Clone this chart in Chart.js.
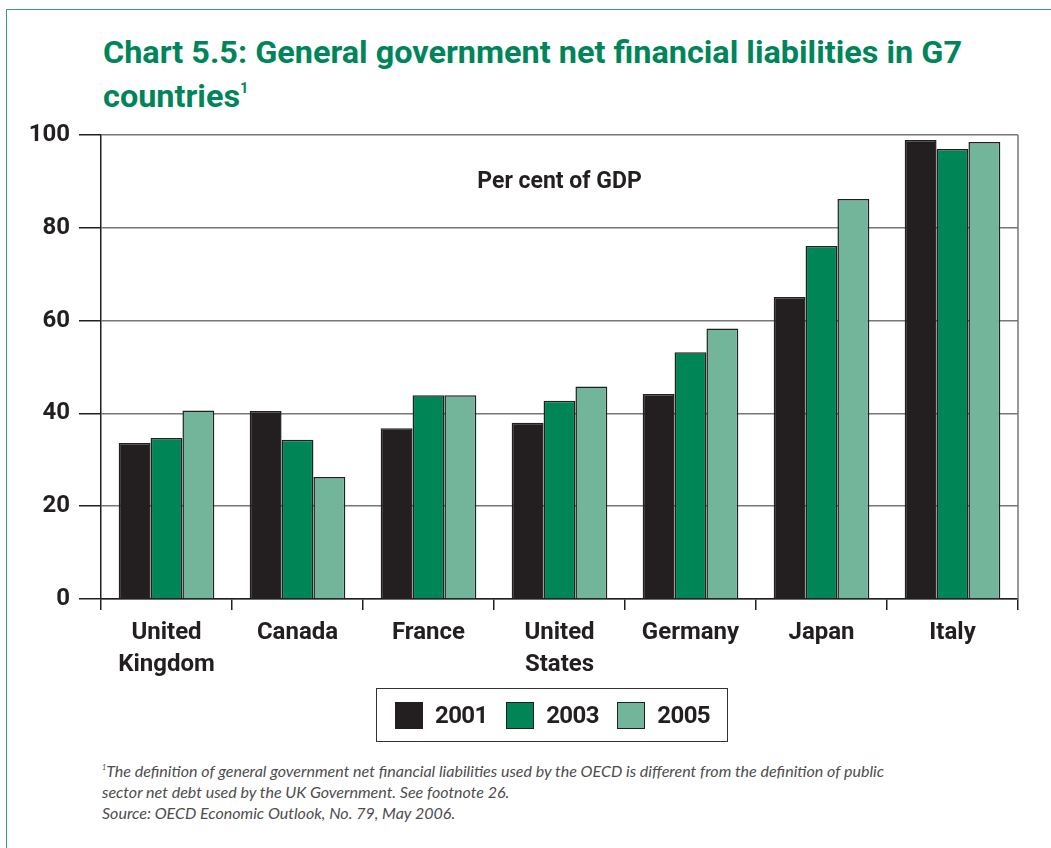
<!DOCTYPE html>
<html>
<head>
<meta charset="utf-8">
<script src="https://cdn.jsdelivr.net/npm/chart.js@4.4.1/dist/chart.umd.min.js"></script>
<style>
  html, body { margin: 0; padding: 0; background: #fff; }
  body { width: 1051px; height: 848px; position: relative; overflow: hidden; }
  .frame-top { position: absolute; left: 6px; top: 9px; width: 1045px; height: 0; border-top: 1.5px solid #3a9d74; }
  .frame-left { position: absolute; left: 6px; top: 9px; width: 0; height: 839px; border-left: 1.5px solid #3a9d74; }
  #title {
    position: absolute; left: 103px; top: 30px;
    font-family: "Liberation Sans Narrow", "Roboto", sans-serif;
    font-weight: bold; font-size: 32px; line-height: 44px; color: #00855a;
    transform-origin: 0 0; white-space: nowrap;
  }
  #title span { display: inline-block; }
  #title sup, #note sup { font-size: 0.45em; vertical-align: 0.95em; line-height: 0; }
  #wrap { position: absolute; left: 0; top: 0; width: 1051px; height: 700px; }
  #legend {
    position: absolute; left: 376px; top: 688px; width: 315px; height: 52px;
    border: 1.5px solid #333; padding: 0 17px 0 18px; box-sizing: content-box;
    display: flex; align-items: center; justify-content: space-between;
    font-family: "Liberation Sans Narrow", "Roboto", sans-serif; font-weight: bold; font-size: 24px;
    letter-spacing: -0.6px; color: #231f20;
  }
  #legend .item { display: flex; align-items: center; }
  #legend .swatch { width: 26px; height: 25px; border: 1.5px solid #231f20; margin-right: 12px; }
  #note {
    position: absolute; left: 102px; top: 760px;
    font-family: "Lato", "Open Sans", sans-serif; font-style: italic; font-size: 16px; line-height: 21px;
    color: #4d4d4d; white-space: nowrap; transform-origin: 0 0;
  }
  #note span { display: inline-block; }
</style>
</head>
<body>
<div class="frame-top"></div>
<div class="frame-left"></div>

<div id="title"><span id="titleLine">Chart 5.5: General government net financial liabilities in G7</span><br><span>countries<sup>1</sup></span></div>

<div id="wrap"><canvas id="g7Chart"></canvas></div>

<div id="legend"></div>

<div id="note"><span id="noteLine"><sup>1</sup>The definition of general government net financial liabilities used by the OECD is different from the definition of public</span><br>sector net debt used by the UK Government. See footnote 26.<br>Source: OECD Economic Outlook, No. 79, May 2006.</div>

<script>
// G7 net financial liabilities, per cent of GDP
const countries = [["United", "Kingdom"], "Canada", "France", ["United", "States"], "Germany", "Japan", "Italy"];
const years = ["2001", "2003", "2005"];
const debt2001 = [33.6, 40.5, 36.8, 38.0, 44.2, 65.1, 98.9];
const debt2003 = [34.7, 34.3, 43.9, 42.7, 53.2, 76.1, 97.0];
const debt2005 = [40.6, 26.3, 43.9, 45.8, 58.3, 86.2, 98.5];
const yTicks = [0, 20, 40, 60, 80, 100];

const colors = ["#231f20", "#008556", "#72b59b"];
const INK = "#231f20";
const NARROW = '"Liberation Sans Narrow", "Roboto", sans-serif';

// stretch a text block so its first line spans the given width
function fitWidth(block, line, target) {
  const w = line.getBoundingClientRect().width;
  if (w > 0) block.style.transform = "scaleX(" + (target / w) + ")";
}
fitWidth(document.getElementById("title"), document.getElementById("titleLine"), 859);
fitWidth(document.getElementById("note"), document.getElementById("noteLine"), 782);

// legend built from the series names/colours
const legend = document.getElementById("legend");
years.forEach((y, i) => {
  const item = document.createElement("div");
  item.className = "item";
  item.innerHTML = `<div class="swatch" style="background:${colors[i]}"></div><span>${y}</span>`;
  legend.appendChild(item);
});

// right border of the plot + the "Per cent of GDP" caption
const plotExtras = {
  id: "plotExtras",
  afterDraw(chart) {
    const { ctx, chartArea: a } = chart;
    ctx.save();
    ctx.strokeStyle = "#777";
    ctx.lineWidth = 1.5;
    ctx.beginPath();
    ctx.moveTo(a.right, a.top);
    ctx.lineTo(a.right, a.bottom);
    ctx.stroke();
    ctx.fillStyle = INK;
    ctx.font = "bold 23px " + NARROW;
    ctx.textAlign = "center";
    ctx.textBaseline = "alphabetic";
    ctx.fillText("Per cent of GDP", (a.left + a.right) / 2, a.top + 53);
    ctx.restore();
  }
};

const data = [debt2001, debt2003, debt2005];

new Chart(document.getElementById("g7Chart"), {
  type: "bar",
  data: {
    labels: countries,
    datasets: years.map((y, i) => ({
      label: y,
      data: data[i],
      backgroundColor: colors[i],
      borderColor: INK,
      borderWidth: 1.5,
      barPercentage: 1,
      categoryPercentage: 0.73
    }))
  },
  options: {
    responsive: true,
    maintainAspectRatio: false,
    animation: false,
    events: [],
    layout: { padding: { top: 135, right: 33, bottom: 0, left: 0 } },
    plugins: {
      legend: { display: false },
      tooltip: { enabled: false }
    },
    scales: {
      x: {
        afterFit: (s) => { s.height = 101; },
        grid: { offset: true, drawOnChartArea: false, tickLength: 11, tickColor: INK, lineWidth: 1.5 },
        border: { color: INK, width: 1.5 },
        ticks: {
          color: INK, padding: 7,
          font: { family: NARROW, size: 24, weight: "bold", lineHeight: 1.33 }
        }
      },
      y: {
        min: 0,
        max: 100,
        afterFit: (s) => { s.width = 101; },
        afterBuildTicks: (s) => { s.ticks = yTicks.map(v => ({ value: v })); },
        grid: { color: "#777", lineWidth: 1.5, tickLength: 22, tickColor: INK },
        border: { color: INK, width: 1.5 },
        ticks: {
          color: INK, padding: 9,
          font: { family: NARROW, size: 24, weight: "bold" }
        }
      }
    }
  },
  plugins: [plotExtras]
});
</script>
</body>
</html>
